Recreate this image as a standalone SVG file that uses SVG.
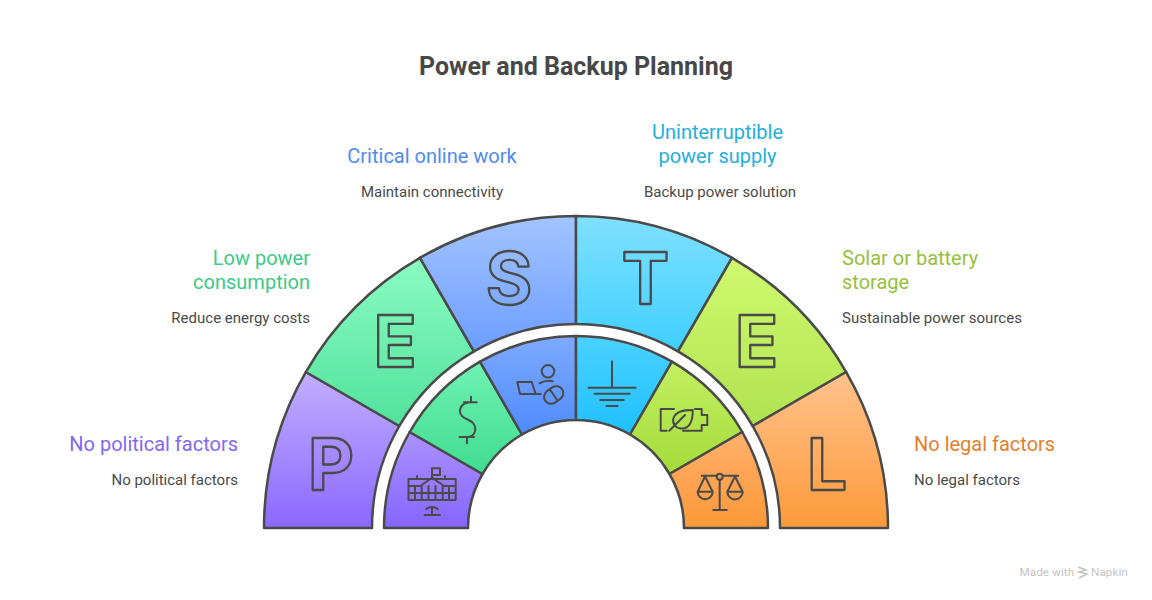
<svg xmlns="http://www.w3.org/2000/svg" width="1152" height="600" viewBox="0 0 1152 600">
<style>
text{font-family:Roboto,"Liberation Sans",sans-serif}
.t{font-size:25px;font-weight:700;fill:#474747;text-anchor:middle}
.h{font-size:20px;font-weight:400}
.s{font-size:15px;fill:#4a4a4a}
.e{text-anchor:end}
.seg{stroke:#4a4a4a;stroke-width:2.5;stroke-linejoin:round}
.ltr{font-family:Inter,Roboto,sans-serif;font-weight:700;font-size:71px;fill:none;stroke:#4a4a4a;stroke-width:2.3;stroke-linejoin:round;text-anchor:middle}
.ic{fill:none;stroke:#4a4a4a;stroke-width:2;stroke-linecap:round;stroke-linejoin:round}
.wm{font-size:11.800px;fill:#c4c4c4}
</style>
<defs>
<linearGradient id="g1" gradientUnits="userSpaceOnUse" x1="0" y1="372" x2="0" y2="528"><stop offset="0" stop-color="#c2aeff"/><stop offset="1" stop-color="#8a68ff"/></linearGradient>
<linearGradient id="g2" gradientUnits="userSpaceOnUse" x1="0" y1="258" x2="0" y2="426"><stop offset="0" stop-color="#8afcc2"/><stop offset="1" stop-color="#52e29c"/></linearGradient>
<linearGradient id="g3" gradientUnits="userSpaceOnUse" x1="0" y1="216" x2="0" y2="352"><stop offset="0" stop-color="#a2c4ff"/><stop offset="1" stop-color="#6c9dff"/></linearGradient>
<linearGradient id="g4" gradientUnits="userSpaceOnUse" x1="0" y1="216" x2="0" y2="352"><stop offset="0" stop-color="#7fe0ff"/><stop offset="1" stop-color="#40cfff"/></linearGradient>
<linearGradient id="g5" gradientUnits="userSpaceOnUse" x1="0" y1="258" x2="0" y2="426"><stop offset="0" stop-color="#d0fa70"/><stop offset="1" stop-color="#b0e250"/></linearGradient>
<linearGradient id="g6" gradientUnits="userSpaceOnUse" x1="0" y1="372" x2="0" y2="528"><stop offset="0" stop-color="#ffc28c"/><stop offset="1" stop-color="#fd9a3a"/></linearGradient>
<linearGradient id="i1" gradientUnits="userSpaceOnUse" x1="0" y1="432" x2="0" y2="528"><stop offset="0" stop-color="#ab92ff"/><stop offset="1" stop-color="#8565ff"/></linearGradient>
<linearGradient id="i2" gradientUnits="userSpaceOnUse" x1="0" y1="362" x2="0" y2="474"><stop offset="0" stop-color="#70f2b2"/><stop offset="1" stop-color="#3fdc90"/></linearGradient>
<linearGradient id="i3" gradientUnits="userSpaceOnUse" x1="0" y1="336" x2="0" y2="434"><stop offset="0" stop-color="#7eaaff"/><stop offset="1" stop-color="#4f8bff"/></linearGradient>
<linearGradient id="i4" gradientUnits="userSpaceOnUse" x1="0" y1="336" x2="0" y2="434"><stop offset="0" stop-color="#4ad2ff"/><stop offset="1" stop-color="#1fc0ff"/></linearGradient>
<linearGradient id="i5" gradientUnits="userSpaceOnUse" x1="0" y1="362" x2="0" y2="474"><stop offset="0" stop-color="#c2f062"/><stop offset="1" stop-color="#a4dc3a"/></linearGradient>
<linearGradient id="i6" gradientUnits="userSpaceOnUse" x1="0" y1="432" x2="0" y2="528"><stop offset="0" stop-color="#ffb06c"/><stop offset="1" stop-color="#fc9838"/></linearGradient>
</defs>
<rect width="1152" height="600" fill="#fff"/>
<text class="t" x="576" y="75">Power and Backup Planning</text>

<g id="node-p">
<path class="seg" fill="url(#g1)" d="M264 528A312 312 0 0 1 305.8 372L399.3 426A204 204 0 0 0 372 528Z"/>
<path class="seg" fill="url(#i1)" d="M384 528A192 192 0 0 1 409.7 432L482.5 474A108 108 0 0 0 468 528Z"/>
<text class="ltr" x="331" y="490">P</text>
<g class="ic"><path d="M408.500 479H455.700V500H408.500ZM408.500 486H421.700M442.700 486H455.700M408.500 493H455.700M415 486V500M421.700 486V500M428.500 486V500M435.500 486V500M442.700 486V500M449 486V500M421.700 485L432 477.700L442.700 485M432 478V468.300H440V475H432M417 479V476M445 479V476"/><path d="M424.500 515H440M432 515V508M426 509Q432 505 438 509"/></g>
<text class="h e" x="238" y="451" fill="#8268f2">No political factors</text>
<text class="s e" x="238" y="485">No political factors</text>
</g>

<g id="node-e1">
<path class="seg" fill="url(#g2)" d="M305.800 372A312 312 0 0 1 420 257.800L474 351.300A204 204 0 0 0 399.300 426Z"/>
<path class="seg" fill="url(#i2)" d="M409.700 432A192 192 0 0 1 480 361.700L522 434.500A108 108 0 0 0 482.500 474Z"/>
<text class="ltr" x="395" y="367">E</text>
<path class="ic" d="M464 402.300H476.700M471 396.700V402.300M471 402.300C463 402.300 459.700 407 460 412C460.600 419 470 419 473 423C477.500 429 475 437 467 437M459.500 437H474M467 437V443.300"/>
<text class="h e" x="310" y="265" fill="#3cc987">Low power</text>
<text class="h e" x="310" y="289" fill="#3cc987">consumption</text>
<text class="s e" x="310" y="323">Reduce energy costs</text>
</g>

<g id="node-s">
<path class="seg" fill="url(#g3)" d="M420 257.800A312 312 0 0 1 576 216V324A204 204 0 0 0 474 351.300Z"/>
<path class="seg" fill="url(#i3)" d="M480 361.700A192 192 0 0 1 576 336V420A108 108 0 0 0 522 434.500Z"/>
<text class="ltr" x="509" y="304">S</text>
<g class="ic"><circle cx="548" cy="371.300" r="6.300"/><path d="M539.500 383.300Q546 379.500 552.700 381.200M517.300 382H531.700L535.700 394H520ZM535.700 394H540.700"/><g transform="rotate(-35 553.700 395)"><rect x="543.500" y="388" width="20.400" height="14" rx="7"/><path d="M553.700 388V402"/></g></g>
<text class="h" x="432" y="163" text-anchor="middle" fill="#4f8bef">Critical online work</text>
<text class="s" x="432" y="197" text-anchor="middle">Maintain connectivity</text>
</g>

<g id="node-t">
<path class="seg" fill="url(#g4)" d="M576 216A312 312 0 0 1 732 257.800L678 351.300A204 204 0 0 0 576 324Z"/>
<path class="seg" fill="url(#i4)" d="M576 336A192 192 0 0 1 672 361.700L630 434.500A108 108 0 0 0 576 420Z"/>
<text class="ltr" x="645.500" y="304">T</text>
<path class="ic" d="M612 361.500V387.700M588.500 387.700H635.700M594.500 393.700H629.700M600.200 400H623.700M606.500 406H617.700"/>
<text class="h" x="717.500" y="139" text-anchor="middle" fill="#25aede">Uninterruptible</text>
<text class="h" x="717.500" y="163" text-anchor="middle" fill="#25aede">power supply</text>
<text class="s" x="720" y="197" text-anchor="middle">Backup power solution</text>
</g>

<g id="node-e2">
<path class="seg" fill="url(#g5)" d="M732 257.800A312 312 0 0 1 846.200 372L752.700 426A204 204 0 0 0 678 351.300Z"/>
<path class="seg" fill="url(#i5)" d="M672 361.700A192 192 0 0 1 742.300 432L669.500 474A108 108 0 0 0 630 434.500Z"/>
<text class="ltr" x="756.500" y="367">E</text>
<path class="ic" d="M674 409H660.700V430.700H666.700M695 409H701.700V415H707.300V425H701.700V430.700H683M692.700 410C684 410 676 411 673.500 418C672 423 675 428 681 428.500C690 429 693 420 692.700 410ZM669.300 430.700L685 415"/>
<text class="h" x="842" y="265" fill="#96c03c">Solar or battery</text>
<text class="h" x="842" y="289" fill="#96c03c">storage</text>
<text class="s" x="842" y="323">Sustainable power sources</text>
</g>

<g id="node-l">
<path class="seg" fill="url(#g6)" d="M846.200 372A312 312 0 0 1 888 528H780A204 204 0 0 0 752.700 426Z"/>
<path class="seg" fill="url(#i6)" d="M742.300 432A192 192 0 0 1 768 528H684A108 108 0 0 0 669.500 474Z"/>
<text class="ltr" x="827" y="490">L</text>
<g class="ic"><circle cx="719.700" cy="476.700" r="3"/><path d="M701.700 475.700H716.700M722.700 475.700H738.300M719.700 479.700V510M713.300 510H726.700M705 476.500L697.700 491.700H712.700ZM697.700 491.700A7.500 7.500 0 0 0 712.700 491.700M735 476.500L727.300 491.700H742.700ZM727.300 491.700A7.700 7.700 0 0 0 742.700 491.700"/></g>
<text class="h" x="914" y="451" fill="#e47f2e">No legal factors</text>
<text class="s" x="914" y="485">No legal factors</text>
</g>

<g id="connectors"></g>

<text class="wm" x="1019.500" y="576">Made with</text>
<path d="M1078 567L1086 570L1079 572L1087 574L1079 578" fill="none" stroke="#c4c4c4" stroke-width="1.500"/>
<text class="wm" x="1091" y="576">Napkin</text>
</svg>
